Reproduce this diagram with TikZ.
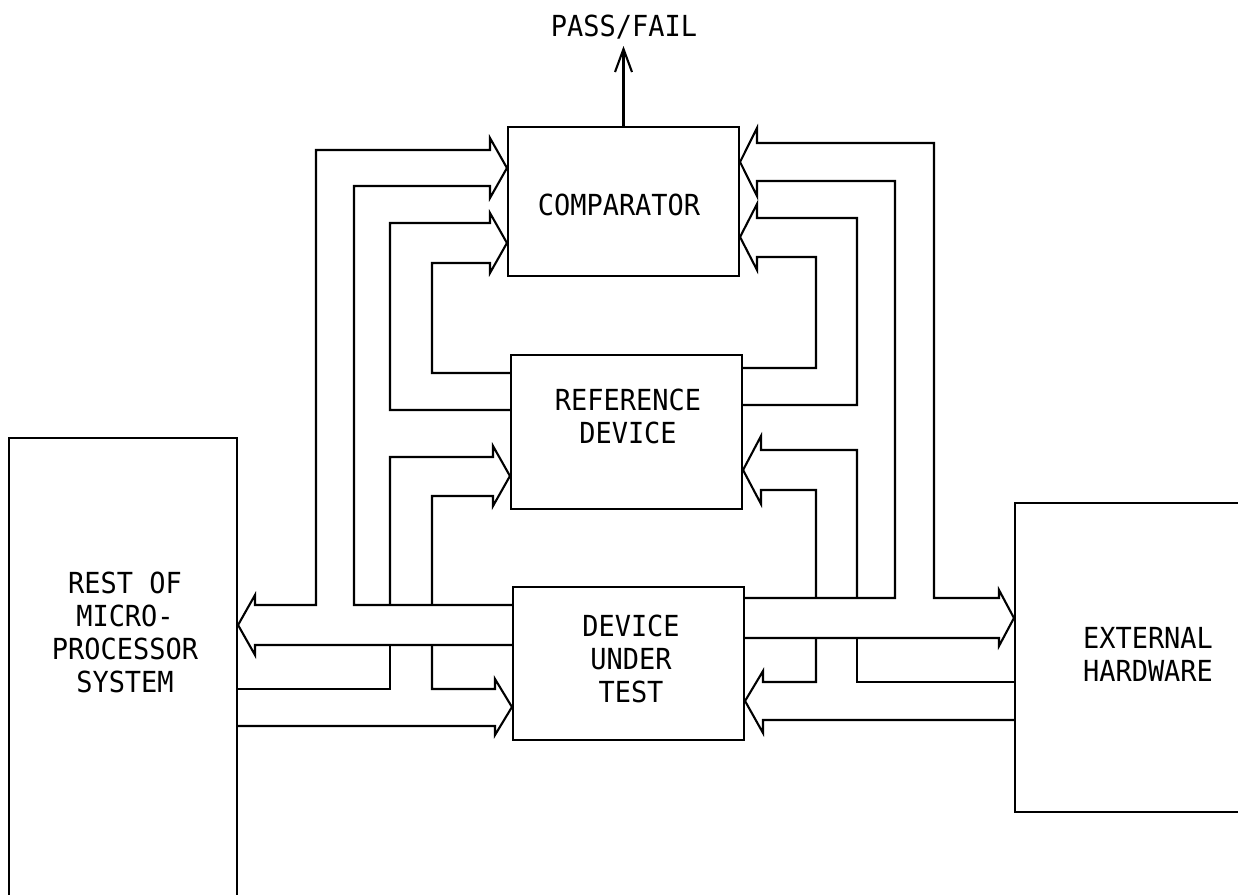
\documentclass[tikz,border=0pt]{standalone}
\usepackage{fontspec}
\newfontfamily\tw[FakeStretch=0.93]{DejaVu Sans Mono}
\usetikzlibrary{arrows.meta}
\begin{document}
\begin{tikzpicture}[x=1pt,y=-1pt,
  box/.style={draw, line width=2.1pt, rectangle, inner sep=0pt},
  txt/.style={font=\tw\fontsize{29}{33}\selectfont, align=center, inner sep=0pt},
  bus/.style={draw, line width=2.1pt, line join=miter},
  sig/.style={draw, line width=2.1pt, -{Straight Barb[length=23pt,width=17pt,line width=2.1pt]}}]
\useasboundingbox (0,0) rectangle (1238,894);
% boxes
\node[box, minimum width=231pt, minimum height=149pt] (CMP) at (623.5,201.5) {};
\node[box, minimum width=231pt, minimum height=154pt] (REF) at (626.5,432) {};
\node[box, minimum width=231pt, minimum height=153pt] (DUT) at (628.5,663.5) {};
\node[box, minimum width=228pt, minimum height=467pt] (REST) at (123,671.5) {};
\node[box, minimum width=266pt, minimum height=309pt] (EXT) at (1148,657.5) {};
% texts
\node[txt] (CMPt) at (619,205) {COMPARATOR};
\node[txt] (REFt) at (628,416.5) {REFERENCE\\DEVICE};
\node[txt] (DUTt) at (631,658.5) {DEVICE\\UNDER\\TEST};
\node[txt] (RESTt) at (125,632) {REST OF\\MICRO-\\PROCESSOR\\SYSTEM};
\node[txt] (EXTt) at (1148,654.5) {EXTERNAL\\HARDWARE};
\node[txt] (PF) at (624,27) {PASS/FAIL};
% pass/fail arrow
\draw[sig] (CMP.north) -- (CMP.north |- 0,46);
% left side
\draw[bus] (DUT.west |- 0,605) -- (354,605) -- (354,186) -- (490,186) -- (490,198) -- (CMP.west |- 0,168) -- (490,138) -- (490,150) -- (316,150) -- (316,605) -- (255,605) -- (255,595) -- (REST.east |- 0,625) -- (255,655) -- (255,645) -- (DUT.west |- 0,645);
\draw[bus] (REF.west |- 0,410) -- (390,410) -- (390,223) -- (490,223) -- (490,213) -- (CMP.west |- 0,243) -- (490,273) -- (490,263) -- (432,263) -- (432,373) -- (REF.west |- 0,373);
\draw[bus] (REST.east |- 0,689) -- (390,689) -- (390,645);
\draw[bus] (390,605) -- (390,457) -- (493,457) -- (493,446) -- (REF.west |- 0,476) -- (493,506) -- (493,496) -- (432,496) -- (432,605);
\draw[bus] (432,645) -- (432,689) -- (495,689) -- (495,679) -- (DUT.west |- 0,707) -- (495,735) -- (495,726) -- (REST.east |- 0,726);
% right side
\draw[bus] (DUT.east |- 0,598) -- (895,598) -- (895,181) -- (757,181) -- (757,196) -- (CMP.east |- 0,162) -- (757,128) -- (757,143) -- (934,143) -- (934,598) -- (999,598) -- (999,590) -- (EXT.west |- 0,618) -- (999,646) -- (999,638) -- (DUT.east |- 0,638);
\draw[bus] (REF.east |- 0,405) -- (857,405) -- (857,218) -- (757,218) -- (757,204) -- (CMP.east |- 0,237) -- (757,270) -- (757,257) -- (816,257) -- (816,368) -- (REF.east |- 0,368);
\draw[bus] (EXT.west |- 0,682) -- (857,682) -- (857,638);
\draw[bus] (857,598) -- (857,450) -- (761,450) -- (761,436) -- (REF.east |- 0,470) -- (761,504) -- (761,490) -- (816,490) -- (816,598);
\draw[bus] (816,638) -- (816,682) -- (763,682) -- (763,671) -- (DUT.east |- 0,701) -- (763,733) -- (763,720) -- (EXT.west |- 0,720);
\end{tikzpicture}
\end{document}
